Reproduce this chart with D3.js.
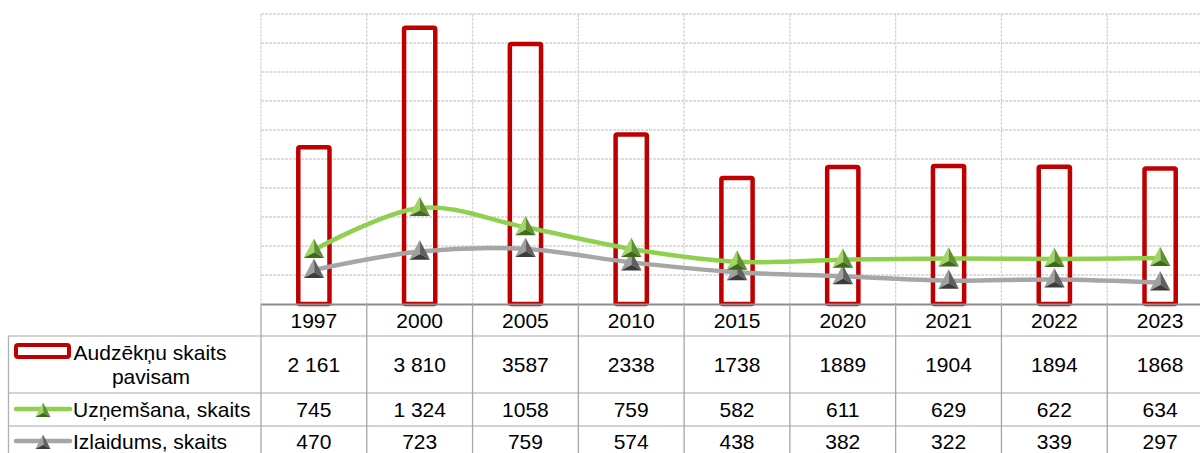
<!DOCTYPE html>
<html>
<head>
<meta charset="utf-8">
<script src="https://cdn.jsdelivr.net/npm/d3@7"></script>
<style>
  body { margin: 0; background: #fff; }
  svg text { font-family: "Liberation Sans", Arial, sans-serif; fill: #000; }
</style>
</head>
<body>
<svg id="chart" width="1200" height="453"></svg>
<script>
// data
var years = ["1997", "2000", "2005", "2010", "2015", "2020", "2021", "2022", "2023"];
var total = [2161, 3810, 3587, 2338, 1738, 1889, 1904, 1894, 1868];
var totalLabels = ["2 161", "3 810", "3587", "2338", "1738", "1889", "1904", "1894", "1868"];
var intake = [745, 1324, 1058, 759, 582, 611, 629, 622, 634];
var intakeLabels = ["745", "1 324", "1058", "759", "582", "611", "629", "622", "634"];
var grads = [470, 723, 759, 574, 438, 382, 322, 339, 297];
var gradLabels = ["470", "723", "759", "574", "438", "382", "322", "339", "297"];
var yTicks = [0, 400, 800, 1200, 1600, 2000, 2400, 2800, 3200, 3600, 4000];

var svg = d3.select("#chart");

var plotL = 261, plotR = 1213, plotT = 14, plotB = 304;

var x = d3.scaleBand().domain(years).range([plotL, plotR]).paddingInner(0).paddingOuter(0);
var y = d3.scaleLinear().domain([0, 4000]).range([plotB, plotT]);
var cx = function(d){ return x(d) + x.bandwidth() / 2; };

// gridlines
svg.append("g").selectAll("line").data(yTicks.slice(1)).enter().append("line")
  .attr("x1", plotL).attr("x2", plotR)
  .attr("y1", function(d){ return y(d); }).attr("y2", function(d){ return y(d); })
  .attr("stroke", "#d4d4d4").attr("stroke-width", 1.3).attr("stroke-dasharray", "3,1");

svg.append("g").selectAll("line").data(years).enter().append("line")
  .attr("x1", function(d){ return x(d); }).attr("x2", function(d){ return x(d); })
  .attr("y1", plotT).attr("y2", plotB)
  .attr("stroke", "#d4d4d4").attr("stroke-width", 1.3).attr("stroke-dasharray", "3,1");

// bars (hollow)
var barW = x.bandwidth() * 0.295;
svg.append("g").selectAll("rect").data(total).enter().append("rect")
  .attr("x", function(d, i){ return cx(years[i]) - barW / 2; })
  .attr("y", function(d){ return y(d); })
  .attr("width", barW)
  .attr("height", function(d){ return y(0) - y(d); })
  .attr("fill", "none").attr("stroke", "#c00000").attr("stroke-width", 4.5)
  .attr("rx", 1.5);

// table lines
var tbl = svg.append("g");
tbl.append("line").attr("x1", plotL).attr("x2", plotR).attr("y1", plotB + 0.5).attr("y2", plotB + 0.5)
  .attr("stroke", "#8c8c8c").attr("stroke-width", 1.8);
var rowLines = [336, 393, 426];
rowLines.forEach(function(ry){
  tbl.append("line").attr("x1", 8).attr("x2", plotR).attr("y1", ry).attr("y2", ry)
    .attr("stroke", "#c4c4c4").attr("stroke-width", 1.5);
});
tbl.append("line").attr("x1", 8.5).attr("x2", 8.5).attr("y1", 336).attr("y2", 453)
  .attr("stroke", "#b0b0b0").attr("stroke-width", 1.3);
tbl.selectAll(".vl").data(years).enter().append("line")
  .attr("x1", function(d){ return x(d); }).attr("x2", function(d){ return x(d); })
  .attr("y1", plotB).attr("y2", 453)
  .attr("stroke", "#a6a6a6").attr("stroke-width", 1.3);

// triangle marker with pyramid shading
function marker(g, px, py, s, cols) {
  var apex = [px, py - 10 * s], bl = [px - 9 * s, py + 7 * s], br = [px + 9 * s, py + 7 * s];
  var c = [px + 0.5 * s, py + 2 * s];
  var p = function(a){ return "M" + a.map(function(q){ return q.join(","); }).join("L") + "Z"; };
  g.append("path").attr("d", p([apex, bl, c])).attr("fill", cols[0]);
  g.append("path").attr("d", p([apex, br, c])).attr("fill", cols[1]);
  g.append("path").attr("d", p([bl, br, c])).attr("fill", cols[2]);
}

var greenCols = ["#a3d46a", "#5f8f32", "#3f6a1c"];
var grayCols = ["#a0a0a0", "#606060", "#3c3c3c"];

var line = d3.line().curve(d3.curveCardinal.tension(0))
  .x(function(d, i){ return cx(years[i]); })
  .y(function(d){ return y(d); });

svg.append("path").datum(grads).attr("d", line)
  .attr("fill", "none").attr("stroke", "#a6a6a6").attr("stroke-width", 4.5);
svg.append("path").datum(intake).attr("d", line)
  .attr("fill", "none").attr("stroke", "#8fd14f").attr("stroke-width", 4.5);

var mg = svg.append("g");
grads.forEach(function(d, i){ marker(mg, cx(years[i]), y(d), 1.15, grayCols); });
intake.forEach(function(d, i){ marker(mg, cx(years[i]), y(d), 1.15, greenCols); });

// table text
var fs = 21;
svg.append("g").selectAll("text").data(years).enter().append("text")
  .attr("x", cx).attr("y", 328).attr("text-anchor", "middle").attr("font-size", fs).text(function(d){ return d; });

function rowText(labels, ty) {
  svg.append("g").selectAll("text").data(labels).enter().append("text")
    .attr("x", function(d, i){ return cx(years[i]); }).attr("y", ty)
    .attr("text-anchor", "middle").attr("font-size", fs).text(function(d){ return d; });
}
rowText(totalLabels, 372);
rowText(intakeLabels, 417);
rowText(gradLabels, 449);

// legend column
var lg = svg.append("g");
lg.append("rect").attr("x", 16).attr("y", 345).attr("width", 53).attr("height", 12).attr("rx", 2)
  .attr("fill", "#fff").attr("stroke", "#c00000").attr("stroke-width", 4);
lg.append("text").attr("x", 150).attr("y", 360).attr("text-anchor", "middle").attr("font-size", fs).text("Audzēkņu skaits");
lg.append("text").attr("x", 151).attr("y", 384).attr("text-anchor", "middle").attr("font-size", fs).text("pavisam");

lg.append("line").attr("x1", 16).attr("x2", 70).attr("y1", 409).attr("y2", 409)
  .attr("stroke", "#8fd14f").attr("stroke-width", 4.5).attr("stroke-linecap", "round");
marker(lg, 43, 411, 0.85, greenCols);
lg.append("text").attr("x", 73).attr("y", 417).attr("font-size", fs).text("Uzņemšana, skaits");

lg.append("line").attr("x1", 16).attr("x2", 70).attr("y1", 441).attr("y2", 441)
  .attr("stroke", "#a6a6a6").attr("stroke-width", 4.5).attr("stroke-linecap", "round");
marker(lg, 43, 443, 0.85, grayCols);
lg.append("text").attr("x", 73).attr("y", 449).attr("font-size", fs).text("Izlaidums, skaits");
</script>
</body>
</html>
